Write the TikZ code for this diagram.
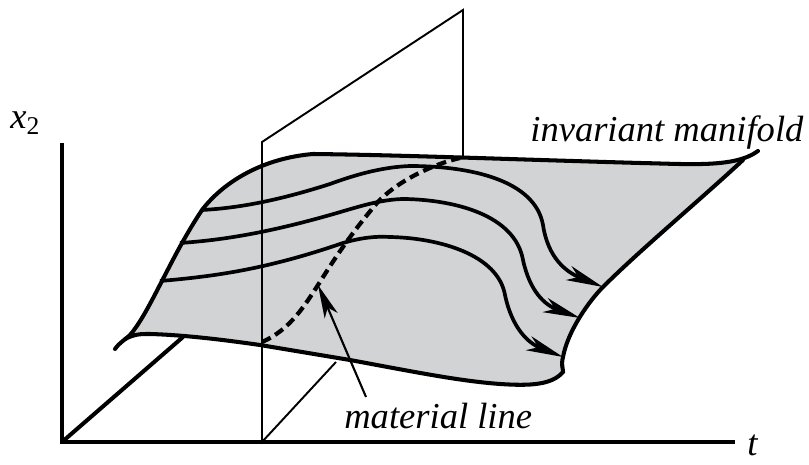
\documentclass[tikz,border=0pt]{standalone}
\usepackage{fontspec}
\setmainfont{Liberation Serif}
\usetikzlibrary{arrows.meta, positioning}
\definecolor{sheet}{HTML}{D1D3D4}

\begin{document}
\begin{tikzpicture}[x=0.02cm, y=-0.02cm,
    axis/.style={line width=2.8pt},
    plane/.style={line width=1.1pt},
    edge/.style={line width=2.3pt, line cap=round},
    traj/.style={line width=2.1pt, -{Stealth[length=21pt, width=8.5pt, inset=6pt]}},
    lbl/.style={font=\itshape\fontsize{20.8}{22}\selectfont, inner sep=0pt}]

    \useasboundingbox (0,0) rectangle (809,465);

    % surface
    \fill[sheet] (130,335) .. controls (150,312) and (170,258) .. (202,210)
        .. controls (225,180) and (265,158) .. (313,154)
        .. controls (400,155) and (500,159) .. (640,163)
        .. controls (680,164) and (720,166) .. (743,160)
        .. controls (700,200) and (640,250) .. (603,287)
        .. controls (590,300) and (568,330) .. (563,357)
        .. controls (561,365) and (563,368) .. (563,372)
        .. controls (552,385) and (530,386) .. (500,384)
        .. controls (460,381) and (420,373) .. (350,360)
        -- (260,345)
        .. controls (225,340) and (185,335) .. (150,334)
        .. controls (140,334) and (135,334) .. (130,335) -- cycle;

    % axes
    \coordinate (Origin) at (62,442);
    \coordinate (TopX) at (62,143);
    \coordinate (EndT) at (735,442);
    \coordinate (EndX) at (183,337);
    \draw[axis] (TopX) -- (Origin) -- (EndT);
    \draw[line width=2.3pt] (Origin) -- (EndX);

    % plane
    \coordinate (PlaneA) at (262,442);
    \coordinate (PlaneB) at (262,142);
    \coordinate (PlaneC) at (463,10);
    \coordinate (PlaneD) at (463,158);
    \coordinate (PlaneE) at (336,362);
    \draw[plane] (PlaneE) -- (PlaneA) -- (PlaneB) -- (PlaneC) -- (PlaneD);

    % edges of the surface
    \draw[edge] (115,349) .. controls (120,342) and (125,340) .. (130,335)
        .. controls (150,312) and (170,258) .. (202,210)
        .. controls (225,180) and (265,158) .. (313,154)
        .. controls (400,155) and (500,159) .. (640,163)
        .. controls (690,164) and (735,168) .. (758,151);
    \draw[edge] (743,160) .. controls (700,200) and (640,250) .. (603,287)
        .. controls (590,300) and (568,330) .. (563,357)
        .. controls (561,365) and (563,368) .. (563,372)
        .. controls (552,385) and (530,386) .. (500,384)
        .. controls (460,381) and (420,373) .. (350,360)
        -- (260,345)
        .. controls (225,340) and (185,335) .. (150,334)
        .. controls (140,334) and (135,334) .. (125,339);

    % trajectories
    \draw[traj] (202,210) .. controls (240,208) and (280,200) .. (330,184)
        .. controls (360,173) and (385,167) .. (410,166)
        .. controls (470,166) and (535,180) .. (543,225)
        .. controls (548,258) and (566,272) .. (603,287);
    \draw[traj] (180,243) .. controls (225,240) and (270,232) .. (330,215)
        .. controls (355,208) and (380,199) .. (405,199)
        .. controls (455,200) and (515,215) .. (523,260)
        .. controls (530,292) and (545,305) .. (580,318);
    \draw[traj] (160,281) .. controls (220,276) and (270,268) .. (343,243)
        .. controls (360,238) and (375,236) .. (390,237)
        .. controls (440,238) and (498,255) .. (505,295)
        .. controls (512,328) and (528,343) .. (563,357);

    % material line
    \draw[line width=2.4pt, dash pattern=on 5.5pt off 3pt] (262,342) .. controls (290,330) and (305,305) .. (318,285)
        .. controls (335,258) and (350,235) .. (377,203)
        .. controls (395,183) and (430,165) .. (460,158);
    \coordinate (Tip) at (318,285);
    \node (Material) [lbl, anchor=base west] at (344,429) {material line};
    \draw[line width=1.2pt, -{Stealth[length=19pt, width=8pt, inset=5pt]}] (366,397) -- (Tip);

    % labels
    \node (Invariant) [lbl, anchor=base west] at (530,142) {invariant manifold};
    \node (LabelT) [lbl, anchor=base west] at (747,456) {t};
    \node (LabelX) [lbl, anchor=base west] at (10,129) {x\textsubscript{\normalfont 2}};
\end{tikzpicture}
\end{document}
